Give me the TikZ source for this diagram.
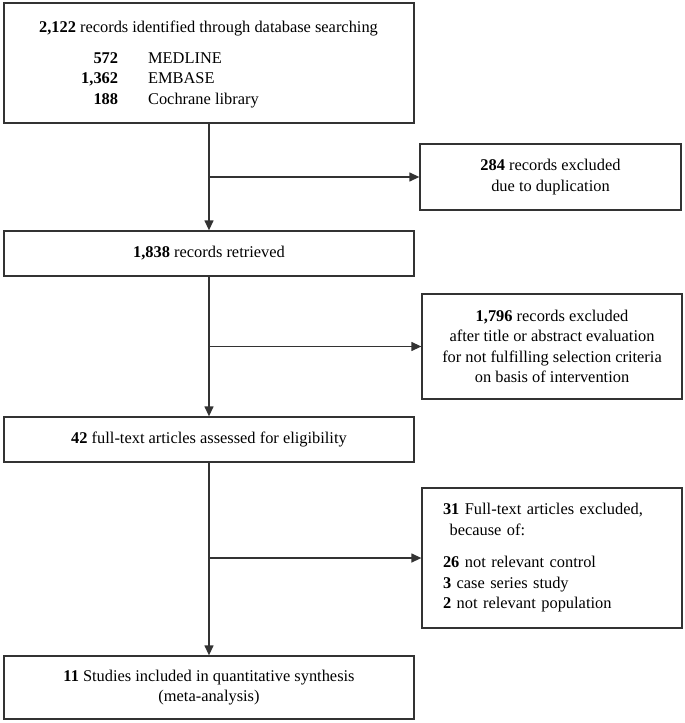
\documentclass[tikz,border=0pt]{standalone}
\usepackage{fontspec}
\setmainfont{Liberation Serif}
\usetikzlibrary{arrows.meta}

\begin{document}
\begin{tikzpicture}[x=1pt,y=-1pt,
        every node/.style={font=\fontsize{16.4}{20.5}\selectfont},
        box/.style={draw=black!80,line width=1.3pt,inner sep=0pt,align=center},
        arr/.style={draw=black!80,line width=1.3pt,-{Triangle[length=10pt,width=9pt]}}]
                \useasboundingbox (0,0) rectangle (685,723);

                % main column
                \node[box,minimum width=410,minimum height=120] (src) at (209,63) {};
                \node[anchor=base,inner sep=0pt] (srchead) at (208.5,32) {\textbf{2,122} records identified through database searching};
                \node[anchor=base west,inner sep=0pt] (srclist) at (81,63) {\begin{tabular}[t]{@{}r@{\hspace{30pt}}l@{}}
                    \textbf{572} & MEDLINE\\
                    \textbf{1,362} & EMBASE\\
                    \textbf{188} & Cochrane library
                \end{tabular}};
                \node[box,minimum width=410,minimum height=45] (ret) at (209,253.5) {\textbf{1,838} records retrieved};
                \node[box,minimum width=410,minimum height=45] (elig) at (209,439.5) {\textbf{42} full-text articles assessed for eligibility};
                \node[box,minimum width=410,minimum height=63] (incl) at (209,687.5) {\textbf{11} Studies included in quantitative synthesis\\(meta-analysis)};

                % excluded
                \node[box,minimum width=261,minimum height=66] (dup) at (550.5,177) {\textbf{284} records excluded\\due to duplication};
                \node[box,minimum width=260,minimum height=105] (scr) at (552,346.5) {\textbf{1,796} records excluded\\after title or abstract evaluation\\for not fulfilling selection criteria\\on basis of intervention};
                \node[box,minimum width=260,minimum height=140,text width=218,align=left] (excl) at (552,558) {\textbf{31} Full-text articles excluded,\\\hspace*{0.4em}because of:\\[12pt]\textbf{26} not relevant control\\\textbf{3} case series study\\\textbf{2} not relevant population};

                \draw[arr] (src) -- (ret);
                \draw[arr] (ret) -- (elig);
                \draw[arr] (elig) -- (incl);
                \draw[arr] (src.south |- dup.west) -- (dup.west);
                \draw[arr] (ret.south |- scr.west) -- (scr.west);
                \draw[arr] (elig.south |- excl.west) -- (excl.west);
            \end{tikzpicture}
\end{document}
